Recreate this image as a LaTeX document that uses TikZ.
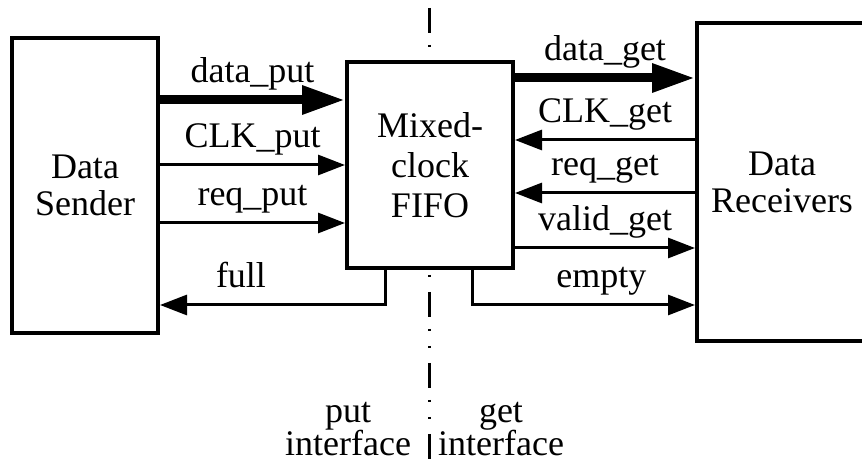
\documentclass[tikz,border=0pt]{standalone}
\usepackage{fontspec}
\setmainfont{Liberation Serif}
\usetikzlibrary{arrows.meta}
\tikzset{>={Triangle[length=13.5pt,width=10pt]}}
\tikzset{
  blk/.style={draw, line width=2pt, fill=white, align=center},
  sig/.style={line width=1.5pt, ->},
  bus/.style={line width=4.5pt, -{Triangle[length=21.5pt,width=13.5pt]}},
  lbl/.style={anchor=base, yshift=8.5pt},
  side/.style={align=center, inner sep=1pt, font={\fontsize{18}{16.5}\selectfont\lineskiplimit=-6pt}}
}

\begin{document}
\begin{tikzpicture}[x=0.5pt, y=-0.5pt, font=\fontsize{18}{18.5}\selectfont]
\clip (0,0) rectangle (862,464);
\useasboundingbox (0,0) rectangle (862,464);

% put / get boundary
\draw[line width=1.5pt, dash pattern=on 12.5pt off 6pt on 1pt off 7.5pt on 1pt off 7.5pt] (429,8) -- (429,459);

\node (sender) at (85,185.5) [blk, minimum width=73pt, minimum height=147.5pt] {Data\\Sender};
\node (fifo) at (430,165) [blk, minimum width=83pt, minimum height=103pt, font=\fontsize{18}{20}\selectfont] {Mixed-\\clock\\FIFO};
\node (recv) at (782,182) [blk, minimum width=85pt, minimum height=159pt] {Data\\Receivers};

% put side
\draw[bus] (sender.east |- 0,100) -- (fifo.west |- 0,100) node[lbl,midway] {data\_put};
\draw[sig] (sender.east |- 0,165) -- (fifo.west |- 0,165) node[lbl,midway] {CLK\_put};
\draw[sig] (sender.east |- 0,223) -- (fifo.west |- 0,223) node[lbl,midway] {req\_put};
\draw[sig] (fifo.south -| 385,0) |- (sender.east |- 0,305) node[lbl,pos=0.82] {full};

% get side
\draw[bus] (fifo.east |- 0,78) -- (recv.west |- 0,78) node[lbl,midway] {data\_get};
\draw[sig] (recv.west |- 0,140) -- (fifo.east |- 0,140) node[lbl,midway] {CLK\_get};
\draw[sig] (recv.west |- 0,193) -- (fifo.east |- 0,193) node[lbl,midway] {req\_get};
\draw[sig] (fifo.east |- 0,248) -- (recv.west |- 0,248) node[lbl,midway] {valid\_get};
\draw[sig] (fifo.south -| 472,0) |- (recv.west |- 0,305) node[lbl,pos=0.79] {empty};

\node (putif) at (348,429) [side] {put\\interface};
\node (getif) at (501,429) [side] {get\\interface};
\end{tikzpicture}
\end{document}
